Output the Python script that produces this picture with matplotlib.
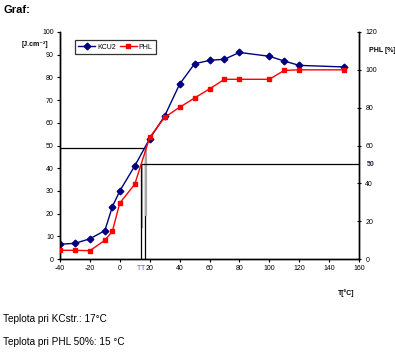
import matplotlib
matplotlib.use("Agg")
import matplotlib.pyplot as plt

plt.rcParams['font.family'] = ['Liberation Sans', 'DejaVu Sans']
plt.rcParams['axes.unicode_minus'] = False

# KCU2 impact energy [J.cm-2], left axis
t_kcu = [-40, -30, -20, -10, -5, 0, 10, 20, 30, 40, 50, 60, 70, 80, 100, 110, 120, 150]
kcu2 = [6.5, 6.9, 8.9, 12.5, 23, 30, 41, 53, 63, 77, 86, 87.5, 88, 91, 89.3, 87.2, 85.3, 84.6]

# PHL [%], right axis
t_phl = [-40, -30, -20, -10, -5, 0, 10, 20, 30, 40, 50, 60, 70, 80, 100, 110, 120, 150]
phl = [4.6, 4.6, 4.4, 9.9, 14.6, 29.6, 39.5, 64.3, 74.9, 80.2, 85.1, 89.9, 95, 95, 95, 99.7, 100, 100]

t_kc = 17      # temperature at KCstr
kc_str = 49    # KCstr level
t_phl50 = 15   # temperature at PHL 50 %
phl_50 = 50

fig = plt.figure(figsize=(3.95, 3.52), dpi=100)
ax = fig.add_axes([60 / 395, 1 - 259 / 352, 299 / 395, 227 / 352])
ax2 = ax.twinx()

ax.set_xlim(-40, 160)
ax.set_ylim(0, 100)
ax2.set_ylim(0, 120)

# helper lines
ax.plot([-40, t_kc], [kc_str, kc_str], color='black', lw=0.9, zorder=1)
ax.plot([t_kc, t_kc], [0, kc_str], color='black', lw=0.9, zorder=1)
ax2.plot([t_phl50, 160], [phl_50, phl_50], color='black', lw=0.9, zorder=1)
ax2.plot([t_phl50 - 0.7, t_phl50 - 0.7], [0, phl_50], color='black', lw=0.9, zorder=1)
ax.plot([t_phl50, t_phl50], [14, 41.5], color='#a8a8a8', lw=1.6, zorder=1)
ax.plot([t_kc + 0.3, t_kc + 0.3], [19.5, 49], color='#a8a8a8', lw=1.6, zorder=1)

l1, = ax.plot(t_kcu, kcu2, color='#000080', marker='D', markersize=3.4, lw=1.0,
              label='KCU2', zorder=3)
l2, = ax2.plot(t_phl, phl, color='#ff0000', marker='s', markersize=3.0, lw=1.0,
               label='PHL', zorder=3)

ax.set_xticks(range(-40, 161, 20))
ax.set_yticks(range(0, 101, 10))
ax2.set_yticks(range(0, 121, 20))
ax.tick_params(labelsize=5, length=2.5, width=0.8, direction='out', pad=2)
ax2.tick_params(labelsize=5, length=3, width=0.8, direction='inout', pad=3)

for a in (ax, ax2):
    a.spines['top'].set_visible(False)
    for s in ('left', 'right', 'bottom'):
        a.spines[s].set_linewidth(1.0)

leg = ax.legend(handles=[l1, l2], ncol=2, loc='upper left',
                bbox_to_anchor=(0.045, 0.97), fontsize=5, frameon=True,
                fancybox=False, edgecolor='black', handlelength=2.4,
                columnspacing=0.6, borderpad=0.5, handletextpad=0.3,
                borderaxespad=0.2)
leg.get_frame().set_linewidth(0.9)

ax2.text(165, phl_50, '50', fontsize=5, fontweight='bold', color='#202050',
         va='center', ha='left', clip_on=False)

fig.text(3 / 395, 1 - 10 / 352, 'Graf:', fontsize=8, fontweight='bold', va='center')
fig.text(35 / 395, 1 - 45 / 352, '[J.cm⁻²]', fontsize=5, fontweight='bold', ha='center', va='center')
fig.text(382 / 395, 1 - 50 / 352, 'PHL [%]', fontsize=5, fontweight='bold', ha='center', va='center')
fig.text(346 / 395, 1 - 293 / 352, 'T[°C]', fontsize=5, fontweight='bold', ha='center', va='center')
fig.text(139.5 / 395, 1 - 268 / 352, 'T', fontsize=5, color='#ff2060', ha='center', va='center')
fig.text(143 / 395, 1 - 268 / 352, 'T', fontsize=5, color='#3050ff', ha='center', va='center')

fig.text(3 / 395, 1 - 319 / 352, 'Teplota pri KCstr.: 17°C', fontsize=7.2, va='center')
fig.text(3 / 395, 1 - 342 / 352, 'Teplota pri PHL 50%: 15 °C', fontsize=7.2, va='center')

fig.savefig('out.png', dpi=100)
